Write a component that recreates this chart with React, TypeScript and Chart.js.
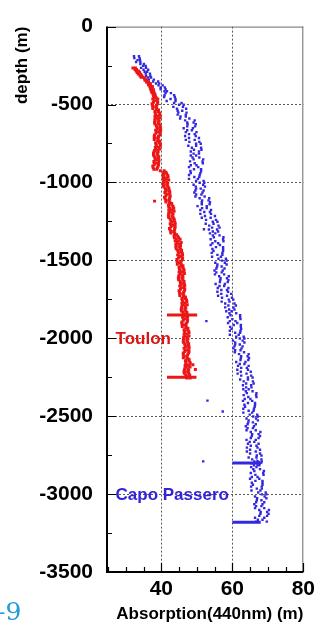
import React, { useEffect, useRef } from "react";
import { Chart, registerables } from "chart.js";

Chart.register(...registerables);

// ---- axis ticks ----
const xTickValues = [40, 60, 80];
const yTickValues = [0, -500, -1000, -1500, -2000, -2500, -3000, -3500];
const xMinorStep = 5;
const yMinorStep = 250;

// ---- Toulon (red) ----
const toulonDepth = [
  -265, -285, -305, -325, -345, -365, -385, -405, -425, -445,
  -465, -485, -505, -525, -545, -565, -585, -605, -625, -645,
  -665, -685, -705, -725, -745, -765, -785, -805, -825, -845,
  -865, -885, -905, -925, -945, -965, -985, -1005, -1025, -1045,
  -1065, -1085, -1105, -1125, -1145, -1165, -1185, -1205, -1225, -1245,
  -1265, -1285, -1305, -1325, -1345, -1365, -1385, -1405, -1425, -1445,
  -1465, -1485, -1505, -1525, -1545, -1565, -1585, -1605, -1625, -1645,
  -1665, -1685, -1705, -1725, -1745, -1765, -1785, -1805, -1825, -1845,
  -1865, -1885, -1905, -1925, -1945, -1965, -1985, -2005, -2025, -2045,
  -2065, -2085, -2105, -2125, -2145, -2165, -2185, -2205, -2225, -2245,
];
const toulonAbsA = [
  32.7, 32.9, 34.2, 34.3, 35.9, 36.3, 37.5, 37.1, 38.0, 37.8,
  39.0, 37.8, 38.7, 37.6, 39.2, 38.5, 39.7, 38.2, 39.4, 38.7,
  39.8, 38.5, 39.2, 38.0, 39.4, 38.6, 39.6, 37.9, 39.0, 38.2,
  39.3, 38.0, 38.9, 39.7, 41.5, 40.8, 42.1, 40.6, 41.8, 41.2,
  42.4, 41.3, 42.3, 41.3, 43.0, 42.4, 43.6, 42.1, 43.3, 42.7,
  43.9, 42.7, 43.7, 42.7, 44.6, 44.2, 45.6, 44.2, 45.4, 44.8,
  46.0, 44.8, 45.6, 44.5, 46.0, 45.3, 46.5, 44.9, 46.1, 45.4,
  46.6, 45.4, 46.3, 45.2, 46.8, 46.1, 47.3, 45.7, 46.9, 46.3,
  47.4, 46.2, 47.0, 45.9, 47.4, 46.7, 47.8, 46.3, 47.4, 46.7,
  47.8, 46.6, 47.4, 46.2, 47.8, 47.0, 48.1, 46.5, 47.7, 47.0,
];
const toulonAbsB = [
  32.0, 33.6, 33.5, 34.9, 35.4, 36.9, 36.8, 37.8, 37.4, 38.3,
  37.6, 39.0, 37.5, 38.7, 38.2, 39.6, 38.5, 39.4, 38.2, 39.6,
  38.4, 39.7, 38.0, 39.1, 38.4, 39.7, 38.4, 39.1, 37.8, 39.1,
  37.9, 39.2, 37.7, 40.8, 40.5, 41.9, 40.9, 41.8, 40.6, 42.1,
  41.0, 42.5, 41.1, 42.4, 42.0, 43.5, 42.4, 43.3, 42.1, 43.6,
  42.5, 43.9, 42.5, 43.8, 43.6, 45.3, 44.4, 45.4, 44.2, 45.7,
  44.6, 46.0, 44.4, 45.6, 45.0, 46.4, 45.3, 46.1, 44.9, 46.3,
  45.2, 46.6, 45.1, 46.3, 45.8, 47.2, 46.1, 46.9, 45.7, 47.2,
  46.0, 47.4, 45.8, 47.0, 46.4, 47.8, 46.6, 47.5, 46.2, 47.6,
  46.4, 47.8, 46.2, 47.3, 46.8, 48.1, 46.9, 47.7, 46.5, 47.9,
];
const toulonDepth2 = [
  -275, -295, -315, -335, -355, -375, -395, -415, -435, -455,
  -475, -495, -515, -535, -555, -575, -595, -615, -635, -655,
  -675, -695, -715, -735, -755, -775, -795, -815, -835, -855,
  -875, -895, -915, -935, -955, -975, -995, -1015, -1035, -1055,
  -1075, -1095, -1115, -1135, -1155, -1175, -1195, -1215, -1235, -1255,
  -1275, -1295, -1315, -1335, -1355, -1375, -1395, -1415, -1435, -1455,
  -1475, -1495, -1515, -1535, -1555, -1575, -1595, -1615, -1635, -1655,
  -1675, -1695, -1715, -1735, -1755, -1775, -1795, -1815, -1835, -1855,
  -1875, -1895, -1915, -1935, -1955, -1975, -1995, -2015, -2035, -2055,
  -2075, -2095, -2115, -2135, -2155, -2175, -2195, -2215, -2235, -2255,
];
const toulonAbsC = [
  32.6, 33.9, 34.0, 35.3, 36.4, 36.4, 37.4, 37.2, 38.2, 38.0,
  38.0, 38.9, 37.7, 38.6, 39.5, 38.2, 39.1, 38.1, 39.7, 38.9,
  38.8, 39.6, 38.2, 39.0, 39.7, 38.3, 39.0, 37.8, 39.3, 38.4,
  38.3, 39.1, 37.9, 40.7, 41.8, 40.5, 41.5, 40.5, 42.1, 41.4,
  41.4, 42.4, 41.3, 42.3, 43.3, 42.1, 43.0, 42.0, 43.6, 42.9,
  42.9, 43.8, 42.7, 43.7, 44.9, 43.9, 45.0, 44.1, 45.7, 45.0,
  45.0, 45.9, 44.6, 45.5, 46.3, 45.0, 45.9, 44.8, 46.4, 45.6,
  45.6, 46.5, 45.3, 46.2, 47.1, 45.8, 46.7, 45.6, 47.2, 46.5,
  46.4, 47.3, 46.0, 46.9, 47.7, 46.4, 47.2, 46.2, 47.7, 46.9,
  46.8, 47.7, 46.4, 47.2, 48.1, 46.7, 47.5, 46.4, 48.0, 47.2,
];
const toulonAbsD = [
  33.0, 33.2, 34.5, 35.5, 35.8, 36.9, 36.9, 37.7, 37.7, 38.5,
  38.7, 37.4, 38.5, 39.2, 38.3, 39.1, 38.2, 39.1, 38.6, 39.8,
  39.5, 38.1, 39.0, 39.6, 38.5, 39.2, 38.1, 38.8, 38.2, 39.3,
  39.0, 37.6, 38.7, 41.3, 40.6, 41.4, 40.6, 41.5, 41.0, 42.3,
  42.1, 40.9, 42.1, 42.9, 42.1, 43.0, 42.1, 43.0, 42.5, 43.8,
  43.6, 42.3, 43.5, 44.3, 43.7, 44.8, 44.1, 45.1, 44.6, 45.9,
  45.7, 44.4, 45.4, 46.1, 45.1, 45.9, 45.0, 45.8, 45.3, 46.5,
  46.3, 45.0, 46.1, 46.8, 45.9, 46.7, 45.8, 46.6, 46.1, 47.4,
  47.1, 45.8, 46.8, 47.5, 46.5, 47.3, 46.3, 47.2, 46.6, 47.8,
  47.5, 46.2, 47.2, 47.8, 46.9, 47.6, 46.6, 47.4, 46.9, 48.1,
];
const toulonOutlierDepth = [-1120, -2200, -2170];
const toulonOutlierAbs = [38.1, 49.6, 48.9];

// ---- Capo Passero (blue) ----
const capoDepth = [
  -190, -215, -240, -265, -290, -315, -340, -365, -390, -415,
  -440, -465, -490, -515, -540, -565, -590, -615, -640, -665,
  -690, -715, -740, -765, -790, -815, -840, -865, -890, -915,
  -940, -965, -990, -1015, -1040, -1065, -1090, -1115, -1140, -1165,
  -1190, -1215, -1240, -1265, -1290, -1315, -1340, -1365, -1390, -1415,
  -1440, -1465, -1490, -1515, -1540, -1565, -1590, -1615, -1640, -1665,
  -1690, -1715, -1740, -1765, -1790, -1815, -1840, -1865, -1890, -1915,
  -1940, -1965, -1990, -2015, -2040, -2065, -2090, -2115, -2140, -2165,
  -2190, -2215, -2240, -2265, -2290, -2315, -2340, -2365, -2390, -2415,
  -2440, -2465, -2490, -2515, -2540, -2565, -2590, -2615, -2640, -2665,
  -2690, -2715, -2740, -2765, -2790, -2815, -2840, -2865, -2890, -2915,
  -2940, -2965, -2990, -3015, -3040, -3065, -3090, -3115, -3140, -3165,
];
const capoAbsA = [
  33.7, 33.3, 35.1, 34.3, 36.0, 35.7, 37.9, 38.5, 41.0, 40.9,
  43.6, 42.6, 45.7, 43.4, 45.9, 44.6, 47.9, 47.3, 49.5, 47.3,
  47.8, 50.6, 47.9, 49.8, 51.3, 49.1, 50.7, 48.1, 49.9, 51.2,
  51.0, 49.3, 51.9, 49.1, 51.1, 49.3, 52.2, 51.5, 53.6, 51.5,
  52.1, 55.1, 52.6, 54.7, 56.4, 54.5, 56.4, 53.9, 56.0, 57.4,
  57.4, 55.8, 58.2, 55.2, 57.0, 55.0, 57.7, 56.7, 58.7, 56.4,
  56.9, 59.7, 57.1, 59.2, 61.0, 59.1, 61.1, 58.7, 60.9, 62.4,
  62.5, 60.8, 63.2, 60.2, 62.1, 60.3, 63.3, 62.5, 64.5, 62.1,
  62.5, 65.2, 62.5, 64.4, 66.0, 63.9, 65.7, 63.2, 65.1, 66.4,
  66.3, 64.6, 67.0, 64.0, 65.8, 63.8, 66.6, 65.6, 67.4, 64.9,
  65.2, 67.8, 65.0, 66.8, 68.3, 66.1, 67.8, 65.2, 67.1, 68.5,
  68.5, 66.9, 69.4, 66.4, 68.2, 66.2, 69.0, 68.0, 69.8, 67.2,
];
const capoAbsB = [
  32.3, 34.0, 34.1, 35.7, 35.3, 36.9, 36.5, 39.4, 39.8, 41.6,
  40.9, 44.0, 43.6, 46.1, 44.6, 46.9, 45.3, 49.1, 47.3, 48.6,
  49.4, 47.8, 50.7, 47.6, 49.2, 50.6, 48.8, 51.6, 48.3, 49.2,
  48.3, 50.7, 49.8, 51.8, 49.8, 51.6, 49.6, 53.3, 51.4, 52.8,
  53.7, 52.3, 55.4, 52.5, 54.3, 56.0, 54.5, 57.4, 54.4, 55.4,
  54.7, 57.2, 56.1, 57.9, 55.7, 57.3, 55.1, 58.5, 56.5, 57.7,
  58.5, 56.9, 59.9, 57.0, 58.9, 60.6, 59.2, 62.2, 59.3, 60.4,
  59.8, 62.2, 61.1, 62.9, 60.8, 62.6, 60.7, 64.3, 62.3, 63.4,
  64.1, 62.4, 65.3, 62.2, 63.9, 65.4, 63.8, 66.7, 63.5, 64.4,
  63.6, 66.0, 64.9, 66.7, 64.5, 66.1, 64.0, 67.4, 65.2, 66.2,
  66.8, 65.0, 67.8, 64.6, 66.2, 67.6, 65.9, 68.7, 65.5, 66.5,
  65.8, 68.3, 67.3, 69.1, 66.9, 68.5, 66.4, 69.8, 67.6, 68.5,
];
const capoDepth2 = [
  -202, -227, -252, -277, -302, -327, -352, -377, -402, -427,
  -452, -477, -502, -527, -552, -577, -602, -627, -652, -677,
  -702, -727, -752, -777, -802, -827, -852, -877, -902, -927,
  -952, -977, -1002, -1027, -1052, -1077, -1102, -1127, -1152, -1177,
  -1202, -1227, -1252, -1277, -1302, -1327, -1352, -1377, -1402, -1427,
  -1452, -1477, -1502, -1527, -1552, -1577, -1602, -1627, -1652, -1677,
  -1702, -1727, -1752, -1777, -1802, -1827, -1852, -1877, -1902, -1927,
  -1952, -1977, -2002, -2027, -2052, -2077, -2102, -2127, -2152, -2177,
  -2202, -2227, -2252, -2277, -2302, -2327, -2352, -2377, -2402, -2427,
  -2452, -2477, -2502, -2527, -2552, -2577, -2602, -2627, -2652, -2677,
  -2702, -2727, -2752, -2777, -2802, -2827, -2852, -2877, -2902, -2927,
  -2952, -2977, -3002, -3027, -3052, -3077, -3102, -3127, -3152, -3177,
];
const capoAbsC = [
  32.4, 34.1, 35.6, 35.0, 36.8, 36.3, 39.1, 39.2, 41.2, 41.2,
  40.8, 44.0, 46.3, 44.4, 47.1, 45.4, 49.4, 47.4, 48.9, 46.9,
  46.7, 49.4, 51.1, 48.6, 50.6, 48.3, 51.8, 49.4, 50.4, 48.2,
  47.8, 50.3, 52.1, 49.7, 51.9, 49.8, 53.5, 51.4, 52.8, 51.0,
  51.0, 53.9, 55.8, 53.5, 55.7, 53.7, 57.5, 55.2, 56.5, 54.4,
  54.2, 56.8, 58.4, 55.8, 57.8, 55.5, 59.0, 56.6, 57.9, 55.9,
  55.8, 58.5, 60.3, 58.0, 60.3, 58.3, 62.2, 60.0, 61.4, 59.4,
  59.3, 61.8, 63.4, 60.8, 62.9, 60.8, 64.6, 62.4, 63.7, 61.6,
  61.4, 64.0, 65.7, 63.2, 65.3, 63.1, 66.8, 64.5, 65.6, 63.4,
  63.1, 65.6, 67.2, 64.6, 66.6, 64.3, 67.9, 65.5, 66.6, 64.4,
  64.1, 66.6, 68.2, 65.6, 67.6, 65.3, 68.9, 66.5, 67.6, 65.5,
  65.3, 67.9, 69.6, 67.0, 69.0, 66.7, 70.3, 67.9, 69.0, 66.7,
];
const capoAbsD = [
  33.9, 32.9, 34.9, 36.3, 35.6, 37.1, 37.7, 40.4, 39.8, 42.7,
  43.8, 41.5, 45.0, 47.0, 44.8, 46.9, 46.7, 49.7, 46.3, 49.9,
  49.7, 46.9, 49.8, 51.2, 48.3, 49.8, 49.1, 51.7, 47.8, 51.2,
  50.8, 47.8, 50.8, 52.3, 49.6, 51.3, 50.8, 53.7, 50.2, 54.0,
  54.0, 51.4, 54.5, 56.1, 53.4, 55.2, 54.8, 57.5, 53.9, 57.4,
  57.2, 54.3, 57.1, 58.4, 55.5, 57.0, 56.3, 58.9, 55.3, 58.9,
  58.8, 56.0, 59.0, 60.6, 58.0, 59.8, 59.5, 62.3, 58.8, 62.4,
  62.3, 59.3, 62.1, 63.4, 60.6, 62.3, 61.9, 64.7, 61.1, 64.6,
  64.4, 61.5, 64.4, 65.8, 63.0, 64.6, 64.1, 66.8, 63.0, 66.4,
  66.1, 63.1, 65.9, 67.2, 64.3, 65.8, 65.2, 67.8, 64.0, 67.4,
  67.1, 64.1, 66.9, 68.2, 65.3, 66.8, 66.2, 68.8, 65.0, 68.5,
  68.3, 65.4, 68.3, 69.6, 66.7, 68.2, 67.6, 70.2, 66.4, 69.7,
];
const capoOutlierDepth = [-1890, -2400, -2790, -2470, -1300];
const capoOutlierAbs = [52.7, 53.0, 51.8, 57.3, 52.0];

// ---- error bars ----
const toulonBarDepth = [-1850, -2250];
const toulonBarFrom = [41.6, 41.6];
const toulonBarTo = [50.1, 49.9];
const capoBarDepth = [-2800, -3180];
const capoBarFrom = [60.0, 60.0];
const capoBarTo = [67.4, 68.0];

// ---- in-plot labels ----
const siteNames = ["Toulon", "Capo Passero"];
const siteLabelAbs = [27.1, 27.1];
const siteLabelDepth = [-2000, -3000];

const RED = "rgb(236, 22, 22)";
const BLUE = "rgb(52, 40, 222)";
const siteColors = ["rgb(222, 20, 20)", "rgb(50, 36, 214)"];
const FONT = '"Liberation Sans", Arial, Helvetica, sans-serif';

function pts(depth: number[], abs: number[]) {
  const n = Math.min(depth.length, abs.length);
  const out: { x: number; y: number }[] = [];
  for (let i = 0; i < n; i++) out.push({ x: abs[i], y: depth[i] });
  return out;
}

const framePlugin = {
  id: "frame",
  afterDraw(chart: any) {
    const { ctx, chartArea: a, scales } = chart;
    const xs = scales.x;
    const ys = scales.y;
    ctx.save();
    ctx.strokeStyle = "#6a6a6a";
    ctx.lineWidth = 1;
    ctx.beginPath();
    ctx.moveTo(a.left, a.top + 0.5);
    ctx.lineTo(a.right, a.top + 0.5);
    ctx.moveTo(a.right - 0.5, a.top);
    ctx.lineTo(a.right - 0.5, a.bottom);
    ctx.stroke();
    ctx.strokeStyle = "#000";
    ctx.lineWidth = 2;
    ctx.beginPath();
    ctx.moveTo(a.left, a.top);
    ctx.lineTo(a.left, a.bottom);
    ctx.lineTo(a.right, a.bottom);
    ctx.stroke();
    ctx.lineWidth = 1.2;
    ctx.beginPath();
    for (let v = Math.ceil(xs.min / xMinorStep) * xMinorStep; v <= xs.max; v += xMinorStep) {
      const px = Math.round(xs.getPixelForValue(v)) + 0.5;
      const len = v % 20 === 0 ? 9 : 5;
      ctx.moveTo(px, a.bottom);
      ctx.lineTo(px, a.bottom - len);
    }
    for (let v = ys.min; v <= ys.max; v += yMinorStep) {
      const py = Math.round(ys.getPixelForValue(v)) + 0.5;
      const len = v % 500 === 0 ? 9 : 5;
      ctx.moveTo(a.left, py);
      ctx.lineTo(a.left + len, py);
    }
    ctx.stroke();
    ctx.font = `bold 17px ${FONT}`;
    ctx.textAlign = "left";
    ctx.textBaseline = "middle";
    for (let i = 0; i < siteNames.length; i++) {
      ctx.fillStyle = siteColors[i];
      ctx.fillText(siteNames[i], xs.getPixelForValue(siteLabelAbs[i]), ys.getPixelForValue(siteLabelDepth[i]) + 1);
    }
    ctx.restore();
  },
};

export default function App() {
  const ref = useRef<HTMLCanvasElement | null>(null);

  useEffect(() => {
    document.body.style.margin = "0";
    const canvas = ref.current;
    if (!canvas) return;

    const barSets: any[] = [];
    for (let i = 0; i < toulonBarDepth.length; i++) {
      barSets.push({
        type: "scatter",
        data: [
          { x: toulonBarFrom[i], y: toulonBarDepth[i] },
          { x: toulonBarTo[i], y: toulonBarDepth[i] },
        ],
        showLine: true,
        borderColor: RED,
        borderWidth: 3,
        pointRadius: 0,
      });
    }
    for (let i = 0; i < capoBarDepth.length; i++) {
      barSets.push({
        type: "scatter",
        data: [
          { x: capoBarFrom[i], y: capoBarDepth[i] },
          { x: capoBarTo[i], y: capoBarDepth[i] },
        ],
        showLine: true,
        borderColor: BLUE,
        borderWidth: 3,
        pointRadius: i === 0 ? [0, 4.5] : 0,
        pointStyle: "triangle",
        rotation: 90,
        pointBackgroundColor: BLUE,
        pointBorderColor: BLUE,
        pointBorderWidth: 0,
      });
    }

    const chart = new Chart(canvas, {
      type: "scatter",
      data: {
        datasets: [
          ...barSets,
          {
            data: [
              ...pts(toulonDepth, toulonAbsA),
              ...pts(toulonDepth, toulonAbsB),
              ...pts(toulonDepth2, toulonAbsC),
              ...pts(toulonDepth2, toulonAbsD),
              ...pts(toulonOutlierDepth, toulonOutlierAbs),
            ],
            pointStyle: "rect",
            pointRadius: 2.1,
            pointBackgroundColor: RED,
            pointBorderWidth: 0,
          },
          {
            data: [
              ...pts(capoDepth, capoAbsA),
              ...pts(capoDepth, capoAbsB),
              ...pts(capoDepth2, capoAbsC),
              ...pts(capoDepth2, capoAbsD),
              ...pts(capoOutlierDepth, capoOutlierAbs),
            ],
            pointStyle: "rect",
            pointRadius: 1.7,
            pointBackgroundColor: BLUE,
            pointBorderWidth: 0,
          },
        ],
      },
      options: {
        animation: false,
        responsive: false,
        devicePixelRatio: 1,
        events: [],
        layout: { padding: { top: 15, right: 11, left: 0, bottom: 0 } },
        plugins: { legend: { display: false }, tooltip: { enabled: false } },
        scales: {
          x: {
            type: "linear",
            min: 24.7,
            max: 80,
            afterBuildTicks: (s: any) => {
              s.ticks = xTickValues.map((v) => ({ value: v }));
            },
            afterFit: (s: any) => {
              s.height = 55;
            },
            ticks: {
              autoSkip: false,
              maxRotation: 0,
              padding: 5,
              color: "#000",
              font: { family: FONT, size: 21, weight: "bold" },
              callback: (v: any) => String(v),
            },
            grid: {
              drawTicks: false,
              lineWidth: 1,
              color: (c: any) => (c.tick && c.tick.value === 80 ? "rgba(0,0,0,0)" : "#5a5a5a"),
            },
            border: { display: false, dash: [2, 2] },
            title: {
              display: true,
              text: "Absorption(440nm) (m)",
              align: "end",
              color: "#000",
              font: { family: FONT, size: 17, weight: "bold" },
              padding: { top: 0, bottom: 2 },
            },
          },
          y: {
            type: "linear",
            min: -3500,
            max: 0,
            afterBuildTicks: (s: any) => {
              s.ticks = yTickValues.map((v) => ({ value: v }));
            },
            afterFit: (s: any) => {
              s.width = 107;
            },
            ticks: {
              autoSkip: false,
              padding: 14,
              color: "#000",
              font: { family: FONT, size: 21, weight: "bold" },
              callback: (v: any) => String(v),
            },
            grid: {
              drawTicks: false,
              lineWidth: 1,
              color: (c: any) =>
                c.tick && (c.tick.value === 0 || c.tick.value === -3500) ? "rgba(0,0,0,0)" : "#5a5a5a",
            },
            border: { display: false, dash: [2, 2] },
            title: {
              display: true,
              text: "depth (m)",
              align: "end",
              color: "#000",
              font: { family: FONT, size: 17, weight: "bold" },
              padding: { top: 12, bottom: 0 },
            },
          },
        },
      },
      plugins: [framePlugin],
    } as any);

    return () => chart.destroy();
  }, []);

  return (
    <div
      style={{
        position: "fixed",
        left: 0,
        top: 0,
        width: 320,
        height: 627,
        background: "#fff",
        overflow: "hidden",
      }}
    >
      <canvas ref={ref} width={320} height={627} style={{ display: "block" }} />
      <div
        style={{
          position: "absolute",
          left: -7,
          top: 599,
          fontFamily: '"DejaVu Serif", "Liberation Serif", serif',
          fontSize: 25,
          lineHeight: "25px",
          color: "#1f9bd7",
          whiteSpace: "nowrap",
        }}
      >
        –9
      </div>
    </div>
  );
}
